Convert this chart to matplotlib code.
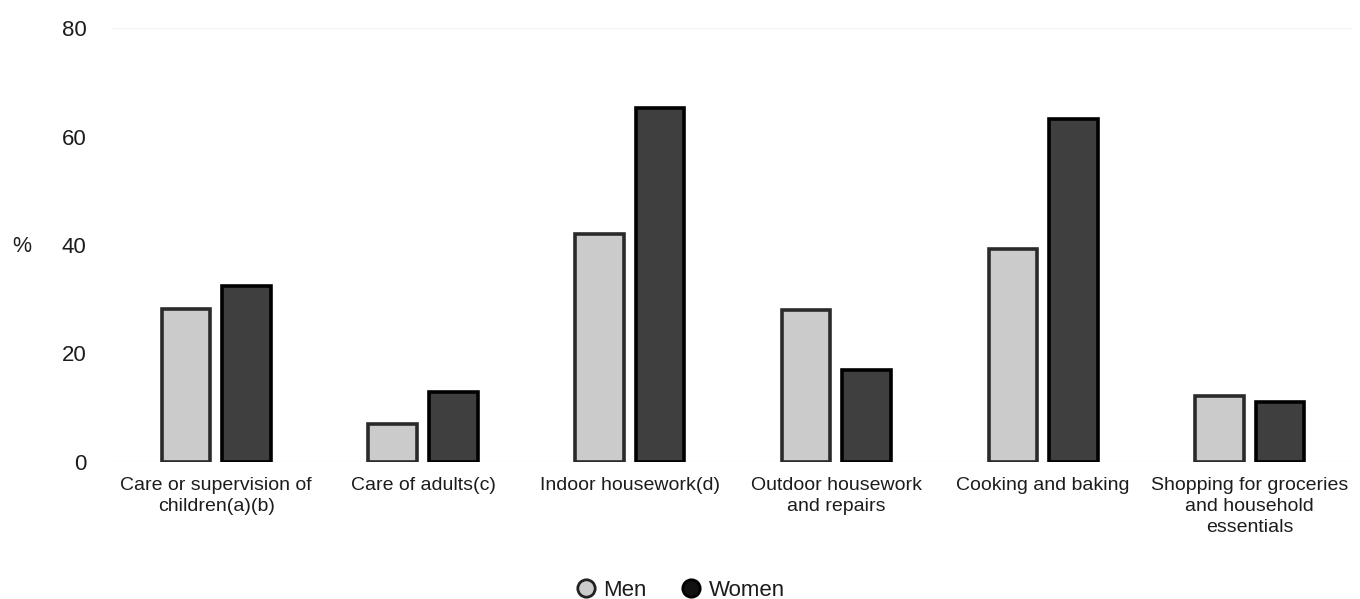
#!/usr/bin/env python3

import matplotlib
matplotlib.use('Agg')
from matplotlib import pyplot as plt
import matplotlib.lines as mlines
import numpy as np

plt.rcParams['font.family'] = ['Liberation Sans', 'DejaVu Sans']

CATEGORIES = [
    'Care or supervision of\nchildren(a)(b)',
    'Care of adults(c)',
    'Indoor housework(d)',
    'Outdoor housework\nand repairs',
    'Cooking and baking',
    'Shopping for groceries\nand household\nessentials',
]
MEN = [28.2, 7.0, 42.0, 28.0, 39.3, 12.2]
WOMEN = [32.5, 12.9, 65.2, 17.0, 63.2, 11.1]
YTICKS = [0, 20, 40, 60, 80]

COLOR_MEN = '#cbcbcb'
COLOR_WOMEN = '#3f3f3f'
TEXT_COLOR = '#1c1c1c'

fig = plt.figure(figsize=(13.6, 5.99), dpi=100)
ax = fig.add_axes([0.083, 0.229, 0.912, 0.724])

x = np.arange(len(CATEGORIES))
width = 0.235
gap = 0.058
ax.bar(x - (width + gap) / 2, MEN, width, color=COLOR_MEN,
       edgecolor='#2a2a2a', linewidth=2.6)
ax.bar(x + (width + gap) / 2, WOMEN, width, color=COLOR_WOMEN,
       edgecolor='#000000', linewidth=2.6)

ax.set_xlim(-0.5, len(CATEGORIES) - 0.5)
ax.set_ylim(0, 80)
ax.set_yticks(YTICKS)
ax.set_xticks(x)
ax.set_xticklabels(CATEGORIES, fontsize=14, color=TEXT_COLOR, linespacing=1.32)
ax.tick_params(axis='y', length=0, pad=19, labelsize=16, labelcolor=TEXT_COLOR)
ax.tick_params(axis='x', length=0, pad=11)
for spine in ax.spines.values():
    spine.set_visible(False)
ax.axhline(80, color='#f4f4f4', linewidth=1, zorder=0)
ax.axhline(0, color='#f0f0f0', linewidth=1, zorder=0)

fig.text(0.009, 0.589, '%', fontsize=15.5, va='center', ha='left', color=TEXT_COLOR)

handles = [
    mlines.Line2D([], [], linestyle='none', marker='o', markersize=12.5,
                  markerfacecolor=COLOR_MEN, markeredgecolor='#222222',
                  markeredgewidth=2, label='Men'),
    mlines.Line2D([], [], linestyle='none', marker='o', markersize=12.5,
                  markerfacecolor='#111111', markeredgecolor='#000000',
                  markeredgewidth=2, label='Women'),
]
leg = fig.legend(handles=handles, loc='center', bbox_to_anchor=(0.5, 0.014),
                 ncol=2, frameon=False, fontsize=16, handletextpad=0.3,
                 columnspacing=1.5, handlelength=1.0, borderpad=0)
for t in leg.get_texts():
    t.set_color(TEXT_COLOR)

fig.savefig('out.png', dpi=100)
